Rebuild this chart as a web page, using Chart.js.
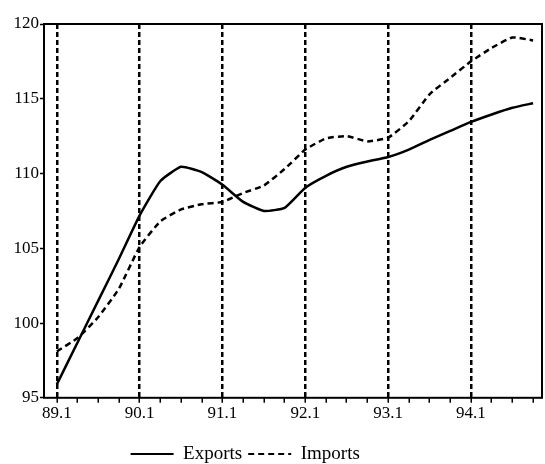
<!DOCTYPE html>
<html>
<head>
<meta charset="utf-8">
<script src="https://cdn.jsdelivr.net/npm/chart.js@4/dist/chart.umd.min.js"></script>
<style>
  html, body { margin: 0; padding: 0; background: #fff; }
  #wrap { width: 545px; height: 464px; }
</style>
</head>
<body>
<div id="wrap"><canvas id="c" width="545" height="464"></canvas></div>
<script>
const quarters = ['89.1','89.2','89.3','89.4','90.1','90.2','90.3','90.4','91.1','91.2','91.3','91.4',
                  '92.1','92.2','92.3','92.4','93.1','93.2','93.3','93.4','94.1','94.2','94.3','94.4'];
const exportsIdx = [95.9, 98.7, 101.5, 104.3, 107.2, 109.5, 110.45, 110.1, 109.25, 108.1, 107.5, 107.7,
                    109.05, 109.85, 110.45, 110.8, 111.1, 111.6, 112.25, 112.85, 113.45, 113.95, 114.4, 114.7];
const importsIdx = [98.1, 99.0, 100.4, 102.3, 105.1, 106.8, 107.6, 107.95, 108.1, 108.7, 109.2, 110.3,
                    111.6, 112.35, 112.5, 112.15, 112.4, 113.5, 115.3, 116.4, 117.5, 118.4, 119.1, 118.9];
const yTicks = [95, 100, 105, 110, 115, 120];

const FONT = "'Liberation Serif', 'Times New Roman', serif";

const framePlugin = {
  id: 'frame',
  afterDatasetsDraw(chart) {
    const {ctx, chartArea: a} = chart;
    ctx.save();
    ctx.strokeStyle = '#000';
    ctx.lineWidth = 2;
    ctx.strokeRect(a.left, a.top, a.right - a.left, a.bottom - a.top);
    ctx.restore();
  }
};

new Chart(document.getElementById('c'), {
  type: 'line',
  data: {
    datasets: [
      {
        label: 'Exports',
        data: exportsIdx.map((v, i) => ({x: i, y: v})),
        borderColor: '#000',
        backgroundColor: '#000',
        borderWidth: 2.5,
        pointRadius: 0,
        tension: 0.15,
        fill: false
      },
      {
        label: 'Imports',
        data: importsIdx.map((v, i) => ({x: i, y: v})),
        borderColor: '#000',
        backgroundColor: '#000',
        borderWidth: 2.5,
        borderDash: [6, 4],
        pointRadius: 0,
        tension: 0.15,
        fill: false
      }
    ]
  },
  options: {
    responsive: false,
    animation: false,
    devicePixelRatio: 1,
    layout: { padding: { left: -51.6, right: 3, top: 24, bottom: -9.4 } },
    plugins: {
      title: { display: false },
      tooltip: { enabled: false },
      legend: {
        display: true,
        position: 'bottom',
        align: 'center',
        labels: {
          usePointStyle: true,
          pointStyle: 'line',
          pointStyleWidth: 43,
          padding: 6,
          color: '#000',
          font: { family: FONT, size: 19 },
          generateLabels(chart) {
            const items = Chart.defaults.plugins.legend.labels.generateLabels(chart);
            items.forEach((it) => {
              const ds = chart.data.datasets[it.datasetIndex];
              it.lineDash = ds.borderDash || [];
              it.lineWidth = 2;
              it.strokeStyle = '#000';
              it.pointStyle = 'line';
            });
            return items;
          }
        }
      }
    },
    scales: {
      x: {
        type: 'linear',
        min: -0.62,
        max: 23.43,
        afterFit(scale) { scale.height = 40.6; },
        border: { display: false, dash: [5, 3] },
        grid: {
          display: true,
          drawOnChartArea: true,
          drawTicks: true,
          tickLength: 5,
          tickWidth: 1.5,
          tickColor: '#000',
          tickBorderDash: [],
          lineWidth: 2.5,
          color: (ctx) => (ctx.tick && ctx.tick.value % 4 === 0) ? '#000' : 'rgba(0,0,0,0)'
        },
        ticks: {
          stepSize: 1,
          includeBounds: false,
          autoSkip: false,
          maxRotation: 0,
          minRotation: 0,
          padding: 1,
          color: '#000',
          font: { family: FONT, size: 17 },
          callback: (value) => (Number.isInteger(value) && value % 4 === 0) ? quarters[value] : ''
        }
      },
      y: {
        type: 'linear',
        min: yTicks[0],
        max: yTicks[yTicks.length - 1],
        afterFit(scale) { scale.width = 95.6; },
        afterBuildTicks(scale) { scale.ticks = yTicks.map(v => ({value: v})); },
        border: { display: false },
        grid: {
          display: true,
          drawOnChartArea: false,
          drawTicks: true,
          tickLength: 4,
          tickWidth: 1.5,
          tickColor: '#000',
          color: '#000'
        },
        ticks: {
          padding: 1,
          color: '#000',
          font: { family: FONT, size: 17 }
        }
      }
    }
  },
  plugins: [framePlugin]
});
</script>
</body>
</html>
